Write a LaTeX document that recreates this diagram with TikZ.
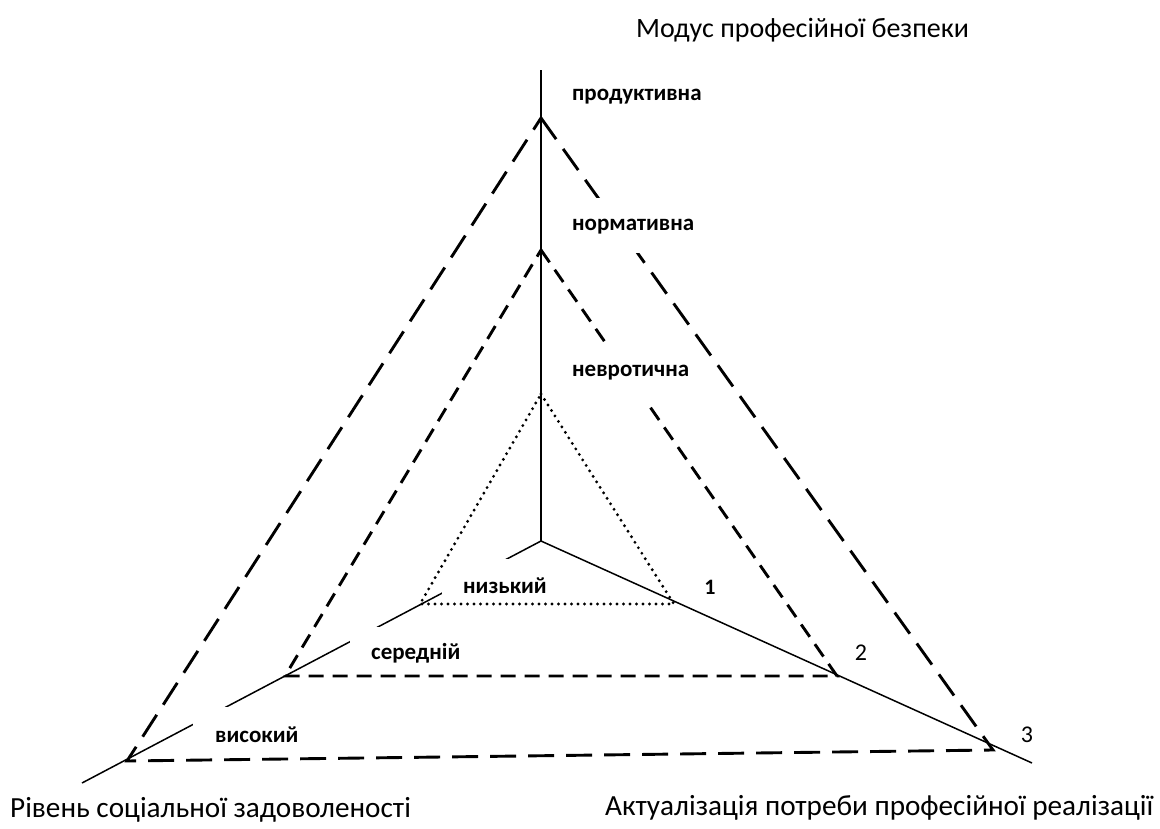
\documentclass[tikz,border=0pt]{standalone}
\usepackage{fontspec}
\setmainfont{Carlito}
\begin{document}
\begin{tikzpicture}[x=1pt,y=-1pt,
  axis/.style={line width=1.5pt},
  outertri/.style={line width=2.9pt, dash pattern=on 26pt off 12pt, line join=miter},
  midtri/.style={line width=2.9pt, dash pattern=on 15pt off 9pt, line join=miter},
  innertri/.style={line width=3.2pt, dash pattern=on 0pt off 6.5pt, line cap=round},
  maskbox/.style={fill=white},
  lab/.style={font=\bfseries\fontsize{23}{27}\selectfont, anchor=west, inner sep=0pt},
  axlab/.style={font=\fontsize{28}{33}\selectfont, anchor=west, inner sep=0pt},
  botlab/.style={font=\fontsize{29.2}{34}\selectfont, anchor=west, inner sep=0pt},
  numlab/.style={font=\fontsize{24}{28}\selectfont, inner sep=0pt}]
\useasboundingbox (0,0) rectangle (1160,829);
% axes
\coordinate (O) at (541,541);
\coordinate (T) at (541,70);
\coordinate (L) at (82,783);
\coordinate (R) at (1032,763);
\draw[axis] (O) -- (T);
\draw[axis] (O) -- (L);
\draw[axis] (O) -- (R);
% masks on left axis (label boxes)
\fill[maskbox] (442,559) rectangle (560,600);
\fill[maskbox] (350,627) rectangle (465,670);
\fill[maskbox] (193,707) rectangle (300,750);
% triangles
\coordinate (A1) at (541,118);
\coordinate (B1) at (127,761);
\coordinate (C1) at (993,750);
\coordinate (A2) at (541,250);
\coordinate (B2) at (285,676);
\coordinate (C2) at (837,676);
\coordinate (A3) at (541,394);
\coordinate (B3) at (420,604);
\coordinate (C3) at (674,604);
\draw[outertri] (A1) -- (C1) -- (B1) -- cycle;
\draw[midtri] (A2) -- (C2) -- (B2) -- cycle;
\draw[innertri] (A3) -- (C3) -- (B3) -- cycle;
% masks on right (label boxes)
\fill[maskbox] (565,198) rectangle (715,253);
\fill[maskbox] (560,347) rectangle (695,405);
% labels
\node[lab] (prod) at (572,97) {продуктивна};
\node[lab] (norm) at (572,227) {нормативна};
\node[lab] (nevr) at (572,373) {невротична};
\node[lab] (nyz) at (463,586) {низький};
\node[lab] (ser) at (371,653) {середній};
\node[lab] (vys) at (215,735) {високий};
\node[numlab, font=\bfseries\fontsize{22}{26}\selectfont] (n1) at (710,587) {1};
\node[numlab] (n2) at (861,653) {2};
\node[numlab] (n3) at (1027,735) {3};
\node[axlab] (tt) at (636,30) {Модус професійної безпеки};
\node[botlab] (tl) at (10,810) {Рівень соціальної задоволеності};
\node[botlab] (tr) at (605,808) {Актуалізація потреби професійної реалізації};
\end{tikzpicture}
\end{document}
